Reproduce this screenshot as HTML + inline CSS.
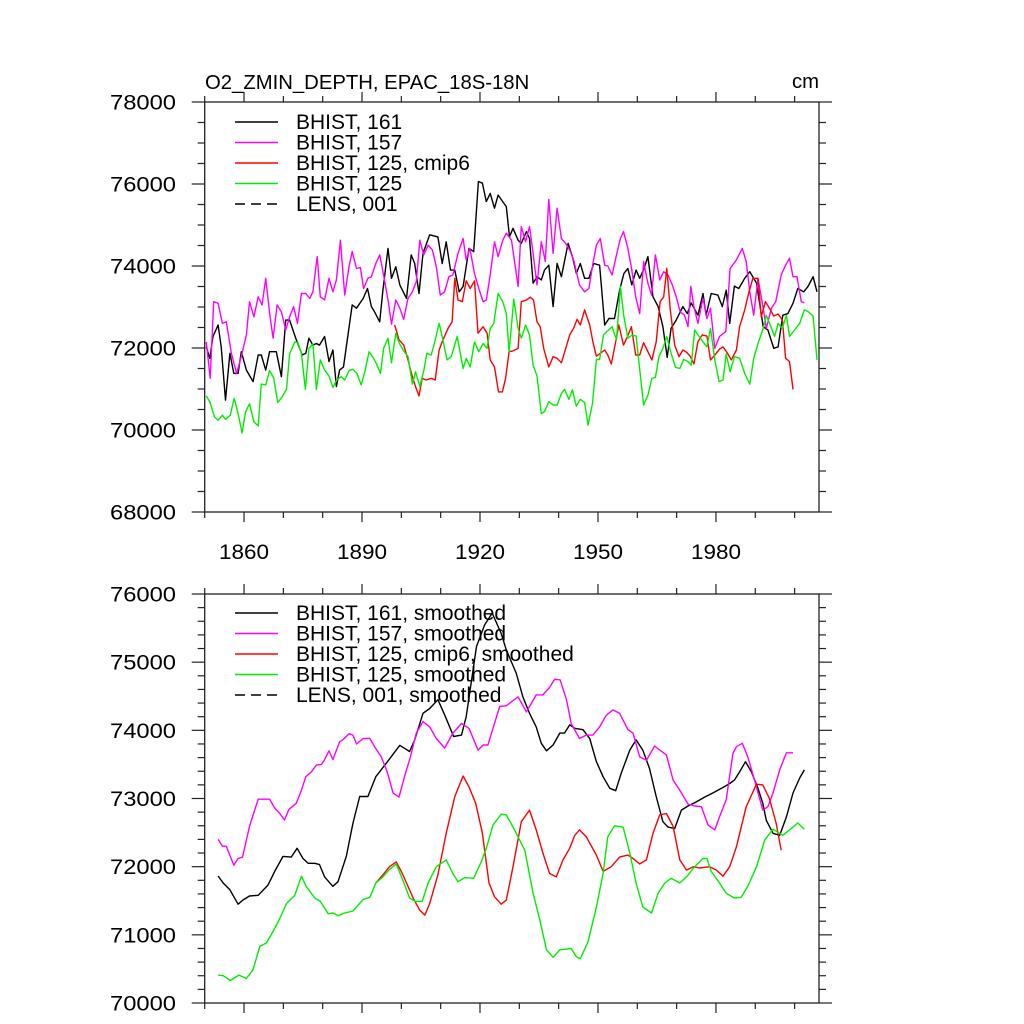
<!DOCTYPE html>
<html><head><meta charset="utf-8"><style>
html,body{margin:0;padding:0;background:#fff;}
svg{display:block;font-family:"Liberation Sans",Arial,sans-serif;}
</style></head><body>
<svg id="chart" width="1024" height="1024" viewBox="0 0 1024 1024" xmlns="http://www.w3.org/2000/svg">
<text x="205" y="89" font-size="20.3">O2_ZMIN_DEPTH, EPAC_18S-18N</text>
<text x="792" y="88" font-size="20.3">cm</text>
</svg>
<script>
// ---------- TOP PANEL DATA ----------
const topBlackYears=[1850.4,1851.3,1852.1,1853.4,1854.2,1855.3,1856.4,1857.4,1858.5,1859.3,1860.6,1862.3,1863.6,1864.4,1865.5,1866.5,1868.2,1869.5,1870.6,1871.6,1873.3,1874.8,1875.7,1876.5,1877.5,1878.4,1879.2,1880.5,1881.6,1882.6,1883.5,1884.3,1885.3,1887.5,1888.6,1890.3,1891.4,1892.4,1893.2,1894.5,1895.3,1896.6,1897.5,1898.6,1899.6,1901.3,1902.5,1903.4,1904.5,1905.5,1907.2,1909.3,1910.4,1911.4,1912.5,1913.6,1914.7,1915.7,1917.2,1918.4,1919.6,1920.6,1921.6,1922.6,1923.7,1924.6,1926.7,1927.5,1928.4,1929.7,1930.5,1931.8,1932.6,1933.5,1934.5,1935.6,1936.4,1937.5,1938.6,1939.6,1940.7,1942.4,1943.5,1944.5,1945.5,1946.6,1947.7,1948.9,1950.4,1951.7,1952.8,1954.2,1955.5,1956.6,1957.6,1958.6,1959.7,1960.6,1961.7,1962.7,1964.0,1965.3,1966.5,1967.6,1968.6,1969.9,1971.6,1972.7,1973.7,1975.4,1976.7,1977.5,1978.8,1980.5,1981.6,1982.6,1983.5,1984.7,1985.8,1987.3,1988.6,1990.3,1992.0,1993.2,1994.7,1995.8,1997.0,1998.3,1999.6,2000.8,2002.3,2003.4,2004.7,2005.7];
const topBlackVals=[72030,71750,72280,72560,72030,70730,71870,71380,71380,71910,71460,71180,71830,71830,71460,71910,71910,71300,72680,72680,72200,71830,71870,72240,72070,72110,72070,72280,71670,71950,71060,71460,71540,73050,72970,73210,73450,73010,72880,72640,73410,74430,73700,73980,73540,73210,74270,74060,73330,74310,74760,74710,74060,74590,73900,73900,73370,73500,74430,74350,76060,76020,75570,75770,75410,75730,75450,74710,74920,74630,74550,74840,74670,73580,73740,73660,73900,74020,73010,74060,73740,74550,74230,73820,74060,73700,73700,74060,74020,72560,72720,72720,73410,73820,73940,73540,73900,73700,73940,74230,73250,73010,72520,71770,72480,72680,73010,72840,73100,72800,73330,72800,73330,73290,73010,73410,72600,73510,73450,73700,73860,73580,72520,72440,71990,72030,72800,72840,73090,73450,73370,73500,73740,73370];

const topMagentaYears=[1850.4,1851.4,1852.3,1853.4,1854.5,1855.5,1856.8,1858.1,1859.3,1860.6,1861.4,1862.5,1863.6,1864.6,1865.5,1866.5,1867.4,1868.4,1869.5,1870.6,1871.6,1872.6,1873.6,1874.6,1875.7,1876.7,1877.5,1878.6,1879.4,1880.5,1881.6,1882.6,1883.5,1884.5,1885.6,1886.7,1887.5,1888.6,1889.6,1890.4,1891.5,1892.4,1893.5,1894.5,1895.5,1896.6,1897.5,1898.6,1899.6,1900.6,1901.7,1902.8,1903.8,1904.7,1905.7,1906.8,1907.9,1908.9,1909.9,1911.0,1912.1,1913.1,1914.4,1915.7,1916.5,1917.4,1918.6,1919.7,1920.8,1921.6,1922.6,1923.7,1924.6,1925.8,1926.7,1928.0,1929.7,1930.5,1931.6,1932.6,1933.5,1934.5,1935.6,1936.6,1937.5,1938.6,1939.6,1940.7,1941.8,1942.8,1943.8,1945.3,1946.6,1947.7,1948.7,1949.6,1950.6,1951.7,1952.5,1953.6,1954.7,1955.7,1956.5,1957.6,1958.6,1959.6,1960.6,1961.6,1962.7,1963.6,1964.6,1965.7,1966.7,1967.8,1968.9,1969.9,1970.9,1972.0,1972.9,1973.6,1974.4,1975.4,1976.7,1977.7,1978.6,1979.7,1980.9,1982.5,1983.6,1985.2,1986.7,1987.7,1988.6,1989.6,1990.7,1992.0,1992.8,1994.1,1995.2,1996.6,1997.7,1998.7,1999.6,2000.6,2001.7,2002.5];
const topMagentaVals=[72150,71260,73130,73090,72600,72640,71870,71380,71790,72320,73130,72760,73250,73050,73700,72850,72240,73050,72880,72440,72760,73010,72600,73330,73330,73210,73370,74230,73250,73170,73700,73370,73660,74630,73290,73980,74350,73940,73960,73450,73700,73740,74060,74270,73780,73170,72580,73170,72970,72700,73210,73370,73620,74630,74270,74510,74390,73980,73290,73370,73740,73780,74310,74670,74150,74430,73820,73450,73130,73170,73780,74590,74230,74630,74800,74630,73500,74960,74590,74960,74310,73540,74590,74110,75620,74310,75410,74670,74550,74390,74150,73540,73370,73450,74060,74510,74670,74020,74000,73780,74270,74670,74840,74430,73900,73250,72840,74110,73580,73290,74270,73660,73860,73780,73540,73250,72880,72800,72520,73500,73010,72600,73210,72720,72970,71990,72280,72400,73940,74150,74430,74110,73370,72800,73700,72970,72480,72970,73130,73780,74020,74190,73740,73740,73130,73100];

const topRedYears=[1898.3,1899.4,1900.6,1901.7,1902.8,1903.6,1904.5,1905.3,1906.3,1907.6,1908.6,1909.6,1910.6,1911.9,1912.9,1913.6,1914.4,1915.5,1916.5,1917.5,1918.6,1919.5,1920.8,1921.8,1922.6,1923.7,1924.7,1925.7,1926.5,1927.4,1928.4,1929.7,1930.5,1931.8,1932.8,1933.6,1934.5,1935.3,1936.2,1937.5,1938.6,1939.6,1940.7,1941.8,1942.8,1943.8,1944.7,1945.5,1946.6,1947.9,1948.7,1949.6,1950.6,1951.7,1952.5,1953.4,1954.5,1955.3,1956.5,1957.5,1958.5,1959.6,1960.6,1961.6,1962.7,1963.7,1964.8,1965.8,1966.7,1967.5,1968.4,1969.5,1970.6,1971.6,1972.6,1973.5,1974.4,1975.4,1976.5,1977.7,1978.6,1979.7,1980.9,1981.8,1982.8,1983.9,1985.2,1986.0,1987.3,1988.4,1989.4,1990.7,1991.5,1992.6,1993.6,1994.7,1995.8,1996.9,1997.7,1998.7,1999.6];
const topRedVals=[72560,72200,72070,71710,71300,71060,70830,71260,71220,71260,71220,71950,72200,72480,72640,73700,73170,73130,73640,73450,73640,72360,72520,72360,71710,71540,70930,70930,71260,71910,71930,71990,73130,73170,73240,73170,72640,72520,71990,71540,71790,71750,71640,71990,72320,72480,72700,72560,72930,72560,72150,71800,71870,71950,71830,71610,72150,72560,72070,72280,72520,71830,71830,72130,71910,71710,72150,73130,73250,73940,72930,72070,71790,71950,71890,71790,71610,72150,72320,72290,71710,71830,71970,72030,71890,71710,71950,72520,72930,73370,73700,73700,72760,73130,72970,72780,72830,72680,71750,71670,70990];

const topGreenYears=[1850.4,1851.3,1852.5,1853.4,1854.5,1855.3,1856.5,1857.5,1858.5,1859.5,1860.4,1861.4,1862.5,1863.6,1864.4,1865.5,1866.5,1867.5,1868.6,1869.7,1870.8,1871.6,1872.9,1873.7,1874.6,1875.6,1876.5,1877.5,1878.4,1879.4,1880.5,1881.6,1882.6,1883.6,1884.7,1885.6,1886.7,1887.7,1888.7,1889.8,1890.7,1891.8,1892.8,1893.6,1894.7,1895.5,1896.6,1897.5,1898.6,1899.4,1900.6,1901.7,1902.8,1903.6,1904.7,1905.7,1906.5,1907.6,1908.5,1909.6,1910.4,1911.6,1912.7,1914.2,1915.7,1916.5,1917.5,1918.6,1919.7,1920.8,1921.8,1922.6,1923.5,1924.6,1925.8,1926.7,1927.4,1928.6,1929.7,1930.5,1931.6,1932.6,1933.5,1934.5,1935.6,1936.4,1937.5,1938.6,1939.6,1940.7,1941.5,1942.6,1943.5,1944.5,1945.5,1946.6,1947.5,1948.6,1949.6,1950.4,1951.4,1952.5,1953.6,1954.7,1955.7,1956.6,1957.6,1958.7,1959.7,1960.6,1961.6,1962.7,1963.7,1964.6,1965.5,1966.5,1967.5,1968.6,1969.7,1970.8,1971.8,1972.9,1973.7,1974.6,1975.7,1976.7,1977.7,1978.6,1979.7,1980.8,1981.8,1982.6,1983.6,1984.7,1986.0,1987.3,1988.6,1989.6,1990.7,1992.0,1992.8,1993.8,1994.9,1995.8,1996.9,1997.9,1998.7,2000.0,2001.3,2002.5,2003.4,2004.7,2005.7];
const topGreenVals=[70830,70690,70320,70240,70360,70260,70360,70770,70400,69930,70450,70640,70200,70100,71120,71100,71450,71280,70670,70810,70990,71850,72150,72130,71870,70990,71990,72100,70990,71710,71460,71320,71040,71220,71300,71220,71450,71480,71380,71100,71420,71910,71770,71630,71380,71990,72240,71640,72360,72130,71930,71790,71120,71420,71060,71450,71870,71830,72150,72600,72280,71710,71790,72280,71500,71750,71540,72150,71910,72110,71990,72480,72600,73330,73130,72840,71910,73190,72480,72240,72560,72320,71580,71320,70400,70450,70690,70610,70610,70890,70990,70750,70980,70580,70750,70670,70120,70650,71720,71720,72320,72420,72520,72200,73500,72760,72240,72320,72290,71480,70610,70850,71260,71280,71790,71990,72280,71870,71530,71500,71720,71670,71580,72440,72280,72150,72030,72480,71710,71180,71220,71850,71420,71790,71750,71380,71120,71750,72110,72480,72800,72560,72280,72600,72480,72800,72280,72440,72600,72930,72890,72780,71710];

// ---------- BOTTOM PANEL DATA (smoothed) ----------
const botBlackYears=[1853.4,1854.7,1856.4,1858.5,1859.7,1861.4,1863.6,1866.1,1867.8,1869.9,1872.0,1873.5,1875.0,1876.3,1878.0,1879.2,1880.5,1882.6,1883.9,1886.0,1887.7,1889.4,1891.5,1893.5,1896.2,1899.6,1902.1,1903.4,1905.5,1907.2,1909.3,1911.0,1913.3,1915.3,1916.5,1919.1,1921.2,1923.1,1925.4,1926.7,1929.2,1930.9,1932.6,1934.3,1935.6,1936.9,1938.6,1940.3,1941.5,1942.8,1944.1,1946.2,1947.9,1949.6,1951.3,1953.0,1954.5,1955.9,1958.1,1959.7,1961.4,1963.1,1964.8,1966.5,1967.8,1969.5,1971.2,1972.9,1975.0,1977.1,1979.2,1981.4,1983.5,1984.7,1986.0,1987.5,1989.0,1990.7,1991.9,1992.8,1994.5,1996.2,1997.9,1999.6,2001.3,2002.5];
const botBlackVals=[71863,71760,71660,71450,71510,71570,71580,71730,71930,72150,72140,72270,72120,72050,72050,72030,71850,71710,71780,72150,72640,73030,73030,73320,73520,73780,73690,73860,74250,74320,74450,74230,73910,73930,74200,75230,75550,75720,75420,75180,74840,74490,74250,74050,73810,73700,73785,73960,73960,74080,74030,74010,73880,73540,73320,73150,73115,73370,73710,73860,73710,73440,73030,72660,72580,72560,72830,72890,72950,73020,73080,73150,73220,73270,73390,73540,73390,73150,72930,72680,72490,72460,72730,73080,73300,73420];

const botMagentaYears=[1853.4,1854.5,1855.5,1857.4,1858.5,1859.6,1861.4,1863.6,1865.3,1866.5,1867.8,1869.1,1870.3,1871.4,1873.3,1874.6,1875.7,1877.1,1878.4,1879.7,1880.5,1881.6,1882.6,1884.3,1885.3,1886.7,1887.7,1888.6,1890.3,1892.0,1893.2,1894.9,1896.4,1897.9,1899.4,1900.8,1902.3,1903.8,1905.5,1907.2,1908.9,1911.0,1913.1,1915.3,1917.2,1919.5,1920.8,1922.0,1923.3,1925.0,1926.7,1928.0,1929.7,1931.8,1933.1,1934.3,1936.0,1937.7,1939.0,1940.4,1942.0,1943.2,1945.3,1947.0,1948.7,1950.4,1952.1,1953.8,1955.5,1957.6,1958.9,1960.6,1962.3,1964.4,1965.7,1967.4,1969.1,1970.8,1972.9,1974.6,1976.3,1978.0,1979.7,1980.9,1982.6,1984.3,1985.2,1986.7,1988.1,1989.8,1991.9,1993.2,1994.5,1996.2,1997.9,1999.6];
const botMagentaVals=[72400,72300,72300,72020,72120,72140,72590,72990,72990,72990,72860,72780,72685,72840,72930,73120,73320,73390,73490,73500,73570,73700,73570,73830,73870,73950,73930,73800,73880,73880,73760,73610,73390,73080,73020,73320,73610,73960,74130,74050,73880,73740,73960,74100,74030,73710,73785,73785,74030,74350,74360,74420,74490,74270,74400,74520,74520,74630,74750,74740,74450,74100,73880,73930,73930,74050,74220,74300,74250,74010,73960,73610,73560,73770,73710,73640,73270,73120,72920,72890,72880,72610,72540,72730,72980,73660,73760,73810,73610,73270,72830,72880,73080,73420,73670,73670];

const botRedYears=[1893.5,1895.3,1897.0,1898.7,1900.0,1901.3,1903.0,1904.7,1906.0,1907.2,1909.3,1911.4,1913.6,1915.7,1917.2,1918.9,1920.6,1922.3,1923.7,1925.4,1926.7,1928.4,1930.5,1932.6,1934.3,1936.0,1937.7,1939.4,1941.1,1942.8,1944.1,1945.3,1947.0,1949.6,1951.3,1953.4,1955.5,1957.6,1958.9,1960.6,1962.3,1964.0,1965.7,1967.4,1969.1,1970.8,1972.5,1974.2,1975.8,1978.4,1980.1,1981.8,1983.5,1985.2,1987.7,1990.3,1991.9,1993.6,1995.3,1996.6];
const botRedVals=[71760,71880,72000,72070,71930,71760,71540,71360,71290,71460,71880,72490,73030,73330,73170,72930,72490,71760,71560,71450,71510,72000,72660,72830,72540,72200,71900,71850,72100,72270,72460,72540,72440,72170,71930,72000,72140,72170,72120,72040,72100,72490,72760,72780,72590,72100,71950,72000,71980,72000,71950,71860,72000,72290,72880,73210,73200,73000,72640,72240];

const botGreenYears=[1853.4,1854.7,1856.5,1858.7,1860.6,1862.3,1864.0,1865.7,1867.4,1869.1,1870.8,1872.9,1874.6,1875.8,1878.0,1879.4,1881.4,1882.6,1883.9,1885.6,1887.7,1890.3,1892.0,1893.5,1895.3,1897.0,1898.7,1900.4,1902.1,1903.6,1905.3,1906.8,1908.9,1911.4,1913.1,1914.4,1916.1,1918.4,1920.3,1921.6,1923.3,1925.4,1926.7,1928.8,1931.4,1933.5,1935.2,1936.9,1938.6,1940.3,1942.0,1943.2,1944.5,1945.5,1947.5,1949.6,1951.3,1952.5,1954.2,1956.4,1958.1,1959.7,1961.4,1963.6,1965.3,1967.0,1968.6,1970.8,1972.5,1974.6,1976.7,1977.7,1978.8,1980.9,1982.6,1984.7,1986.4,1988.1,1990.3,1992.4,1994.5,1997.0,1998.7,2000.8,2002.5];
const botGreenVals=[70410,70400,70330,70410,70360,70490,70830,70880,71050,71240,71460,71580,71860,71710,71540,71490,71310,71320,71280,71320,71350,71520,71550,71760,71850,71960,72040,71800,71540,71490,71490,71760,72000,72100,71900,71780,71840,71830,72070,72270,72610,72770,72760,72540,72240,71610,71220,70780,70670,70780,70790,70800,70680,70650,70900,71410,71900,72440,72600,72580,72200,71760,71410,71320,71610,71760,71830,71760,71850,72000,72120,72120,71930,71760,71610,71540,71550,71710,72000,72390,72550,72460,72540,72640,72550];

// ---------- AXIS / LEGEND LABELS ----------
const xTickLabels=[1860,1890,1920,1950,1980];
const topYTickLabels=[68000,70000,72000,74000,76000,78000];
const botYTickLabels=[70000,71000,72000,73000,74000,75000,76000];
const topLegendLabels=["BHIST, 161","BHIST, 157","BHIST, 125, cmip6","BHIST, 125","LENS, 001"];
const botLegendLabels=["BHIST, 161, smoothed","BHIST, 157, smoothed","BHIST, 125, cmip6, smoothed","BHIST, 125, smoothed","LENS, 001, smoothed"];
const legendColors=["#000000","#ff00ff","#ff0000","#00ee00","#000000"];

// ---------- RENDER ----------
const svg=document.getElementById('chart');
const NS='http://www.w3.org/2000/svg';
const X0=204.7, X1=819, YR0=1850, YR1=2006.2;
function xScale(yr){return X0+(yr-YR0)/(YR1-YR0)*(X1-X0);}
const topP={top:102,bottom:512,min:68000,max:78000,minor:500,major:2000};
const botP={top:594,bottom:1003,min:70000,max:76000,minor:200,major:1000};
function yScale(p,v){return p.bottom-(v-p.min)/(p.max-p.min)*(p.bottom-p.top);}
function mk(tag,attrs){const e=document.createElementNS(NS,tag);for(const k in attrs)e.setAttribute(k,attrs[k]);return e;}
const AX='#222';

function drawPanel(p,name,showXLabels,yLabels){
  const g=mk('g',{});
  
  
  svg.appendChild(g);
  const frame=mk('rect',{x:X0,y:p.top,width:X1-X0,height:p.bottom-p.top,fill:'none',stroke:AX,'stroke-width':1.3});
  
  
  g.appendChild(frame);
  for(let yr=1850;yr<=2000;yr+=10){
    const x=xScale(yr);const major=(yr-1860)%30===0;const L=major?10:6;
    const tb=mk('line',{x1:x,x2:x,y1:p.bottom,y2:p.bottom+L,stroke:AX,'stroke-width':1.2});
    
    
    g.appendChild(tb);
    const tt=mk('line',{x1:x,x2:x,y1:p.top,y2:p.top-L,stroke:AX,'stroke-width':1.2});
    
    
    g.appendChild(tt);
  }
  if(showXLabels){
    xTickLabels.forEach(yr=>{
      const t=mk('text',{x:xScale(yr),y:p.bottom+47,'font-size':21,'text-anchor':'middle',textLength:50,lengthAdjust:'spacingAndGlyphs'});
      
      
      t.textContent=yr;g.appendChild(t);
    });
  }
  for(let v=p.min;v<=p.max;v+=p.minor){
    const y=yScale(p,v);const major=v%p.major===0;const L=major?13:7;
    const tl=mk('line',{x1:X0-L,x2:X0,y1:y,y2:y,stroke:AX,'stroke-width':1.2});
    
    
    g.appendChild(tl);
    const tr=mk('line',{x1:X1,x2:X1+L,y1:y,y2:y,stroke:AX,'stroke-width':1.2});
    
    
    g.appendChild(tr);
  }
  yLabels.forEach(v=>{
    const t=mk('text',{x:110,y:yScale(p,v)+7.5,'font-size':21.5,textLength:66,lengthAdjust:'spacingAndGlyphs'});
    
    
    t.textContent=v;g.appendChild(t);
  });
  return g;
}
function drawSeries(g,p,years,vals,color,name){
  let d='';
  for(let i=0;i<years.length;i++){d+=(i?'L':'M')+xScale(years[i]).toFixed(1)+','+yScale(p,vals[i]).toFixed(1);}
  const path=mk('path',{d:d,fill:'none',stroke:color,'stroke-width':1.4,'stroke-linejoin':'round'});
  
  
  g.appendChild(path);
}
function drawLegend(g,labels,top,name){
  labels.forEach((lab,i)=>{
    const y=top+i*20.5;
    const ln=mk('line',{x1:235,x2:278,y1:y,y2:y,stroke:legendColors[i],'stroke-width':1.4});
    if(i===4)ln.setAttribute('stroke-dasharray','10,6');
    
    
    g.appendChild(ln);
    const t=mk('text',{x:296,y:y+7,'font-size':21});
    
    
    t.textContent=lab;g.appendChild(t);
  });
}
const gTop=drawPanel(topP,'top',true,topYTickLabels);
drawSeries(gTop,topP,topBlackYears,topBlackVals,'#000000','series-bhist-161');
drawSeries(gTop,topP,topMagentaYears,topMagentaVals,'#ff00ff','series-bhist-157');
drawSeries(gTop,topP,topRedYears,topRedVals,'#ff0000','series-bhist-125-cmip6');
drawSeries(gTop,topP,topGreenYears,topGreenVals,'#00ee00','series-bhist-125');
drawLegend(gTop,topLegendLabels,122,'top-legend');

const gBot=drawPanel(botP,'bottom',false,botYTickLabels);
drawSeries(gBot,botP,botBlackYears,botBlackVals,'#000000','series-bhist-161-smoothed');
drawSeries(gBot,botP,botMagentaYears,botMagentaVals,'#ff00ff','series-bhist-157-smoothed');
drawSeries(gBot,botP,botRedYears,botRedVals,'#ff0000','series-bhist-125-cmip6-smoothed');
drawSeries(gBot,botP,botGreenYears,botGreenVals,'#00ee00','series-bhist-125-smoothed');
drawLegend(gBot,botLegendLabels,613,'bottom-legend');
</script>
</body></html>
